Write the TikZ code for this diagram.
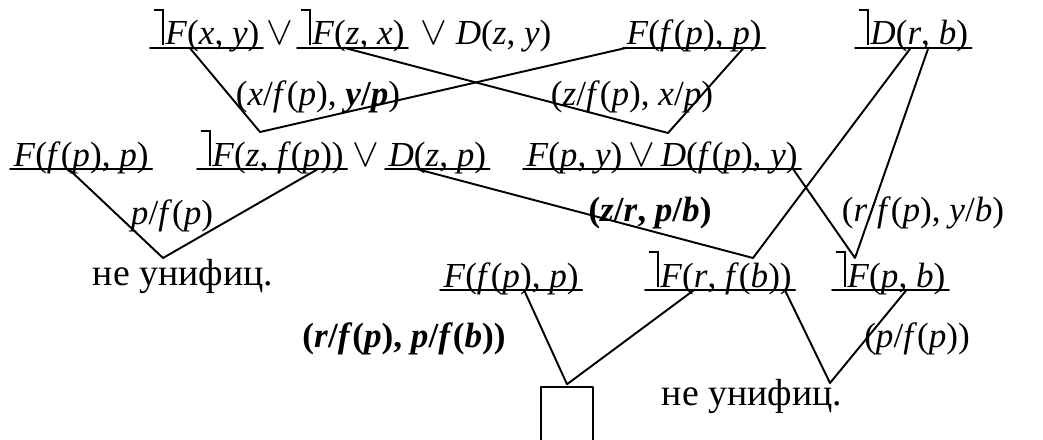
\documentclass[tikz,border=0pt]{standalone}
\usepackage{fontspec}
\setmainfont{Liberation Serif}
\usetikzlibrary{calc}
\newcommand{\vv}[1]{\textit{#1}}
\newcommand{\ngt}{\rule[0.97em]{0.3em}{0.06em}\kern-0.06em\rule{0.06em}{1.03em}\kern0.04em}
\newcommand{\vor}{\scalebox{1.1}{$\vee$}}

\begin{document}
\begin{tikzpicture}[x=0.02cm, y=-0.02cm, line cap=round, line join=round, font=\fontsize{20}{24}\selectfont]
	\tikzset{
		lit/.style={inner xsep=2pt, inner ysep=0pt, outer sep=0pt, anchor=base west, text depth=0.15em},
		lbl/.style={inner sep=0pt, anchor=base},
		fail/.style={lbl, font=\fontsize{21.5}{25}\selectfont},
		edge/.style={line width=1.1pt}
	}
	\useasboundingbox (0,0) rectangle (1043,439);
	% first row
	\node[lit] (c1) at (150,45) {\ngt\vv{F}(\vv{x}, \vv{y})};
	\node[lit] (c2) at (297,45) {\ngt\vv{F}(\vv{z}, \vv{x})};
	\node[lbl] (o1) at ($(c1.base east)!0.5!(c2.base west)$) {\vor};
	\node[lit, inner xsep=0pt] (t1) at ([xshift=7pt]c2.base east) {\vor{} \vv{D}(\vv{z}, \vv{y})};
	\node[lit] (c3) at (623,45) {\vv{F}(\vv{f}(\vv{p}), \vv{p})};
	\node[lit] (c4) at (855,45) {\ngt\vv{D}(\vv{r}, \vv{b})};
	\node[lbl] (s1) at (318,105) {(\vv{x}/\vv{f}(\vv{p}), \textbf{\vv{y}/\vv{p}})};
	\node[lbl] (s2) at (632,105) {(\vv{z}/\vv{f}(\vv{p}), \vv{x}/\vv{p})};
	% second row
	\node[lit] (c5) at (10,166) {\vv{F}(\vv{f}(\vv{p}), \vv{p})};
	\node[lit] (c6) at (197,166) {\ngt\vv{F}(\vv{z}, \vv{f}(\vv{p}))};
	\node[lit] (c7) at (385,166) {\vv{D}(\vv{z}, \vv{p})};
	\node[lbl] (o2) at ($(c6.base east)!0.5!(c7.base west)$) {\vor};
	\node[lit] (c8) at (523,166) {\vv{F}(\vv{p}, \vv{y})\,\vor\,\vv{D}(\vv{f}(\vv{p}), \vv{y})};
	\node[lbl] (s3) at (172,224) {\vv{p}/\vv{f}(\vv{p})};
	\node[lbl] (s4) at (650,221) {\textbf{(\vv{z}/\vv{r}, \vv{p}/\vv{b})}};
	\node[lbl] (s5) at (923,221) {(\vv{r}/\vv{f}(\vv{p}), \vv{y}/\vv{b})};
	\node[fail] (e1) at (183,285) {не унифиц.};
	% third row
	\node[lit] (c9) at (440,287) {\vv{F}(\vv{f}(\vv{p}), \vv{p})};
	\node[lit] (c10) at (645,287) {\ngt\vv{F}(\vv{r}, \vv{f}(\vv{b}))};
	\node[lit] (c11) at (832,287) {\ngt\vv{F}(\vv{p}, \vv{b})};
	\node[lbl] (s6) at (404,347) {\textbf{(\vv{r}/\vv{f}(\vv{p}), \vv{p}/\vv{f}(\vv{b}))}};
	\node[lbl] (s7) at (917,347) {(\vv{p}/\vv{f}(\vv{p}))};
	\node[fail] (e2) at (752,405) {не унифиц.};
	\node[draw, edge, inner sep=0pt, minimum width=1.04cm, minimum height=1.6cm, anchor=north] (nil) at (567,386) {};
	% resolvents
	\coordinate (r1) at (260,132);
	\coordinate (r2) at (668,133);
	\coordinate (r3) at (163,258);
	\coordinate (r4) at (753,258);
	\coordinate (r5) at (855,258);
	\coordinate (r6) at (830,383);
	\foreach \c in {c1,c2,c3,c4,c5,c6,c7,c8,c9,c10,c11} {
		\draw[edge] (\c.south west) -- (\c.south east);
	}
	\draw[edge] ($(c1.south west)!0.35!(c1.south east)$) -- (r1) -- ($(c3.south west)!0.03!(c3.south east)$);
	\draw[edge] ($(c2.south west)!0.42!(c2.south east)$) -- (r2) -- ($(c3.south west)!0.85!(c3.south east)$);
	\draw[edge] ($(c5.south west)!0.41!(c5.south east)$) -- (r3) -- ($(c6.south west)!0.81!(c6.south east)$);
	\draw[edge] ($(c7.south west)!0.29!(c7.south east)$) -- (r4) -- ($(c4.south west)!0.48!(c4.south east)$);
	\draw[edge] ($(c8.south west)!0.97!(c8.south east)$) -- (r5) -- ($(c4.south west)!0.63!(c4.south east)$);
	\draw[edge] ($(c9.south west)!0.59!(c9.south east)$) -- ([yshift=1pt]nil.north) -- ($(c10.south west)!0.33!(c10.south east)$);
	\draw[edge] ($(c10.south west)!0.93!(c10.south east)$) -- (r6) -- ($(c11.south west)!0.64!(c11.south east)$);
\end{tikzpicture}
\end{document}
